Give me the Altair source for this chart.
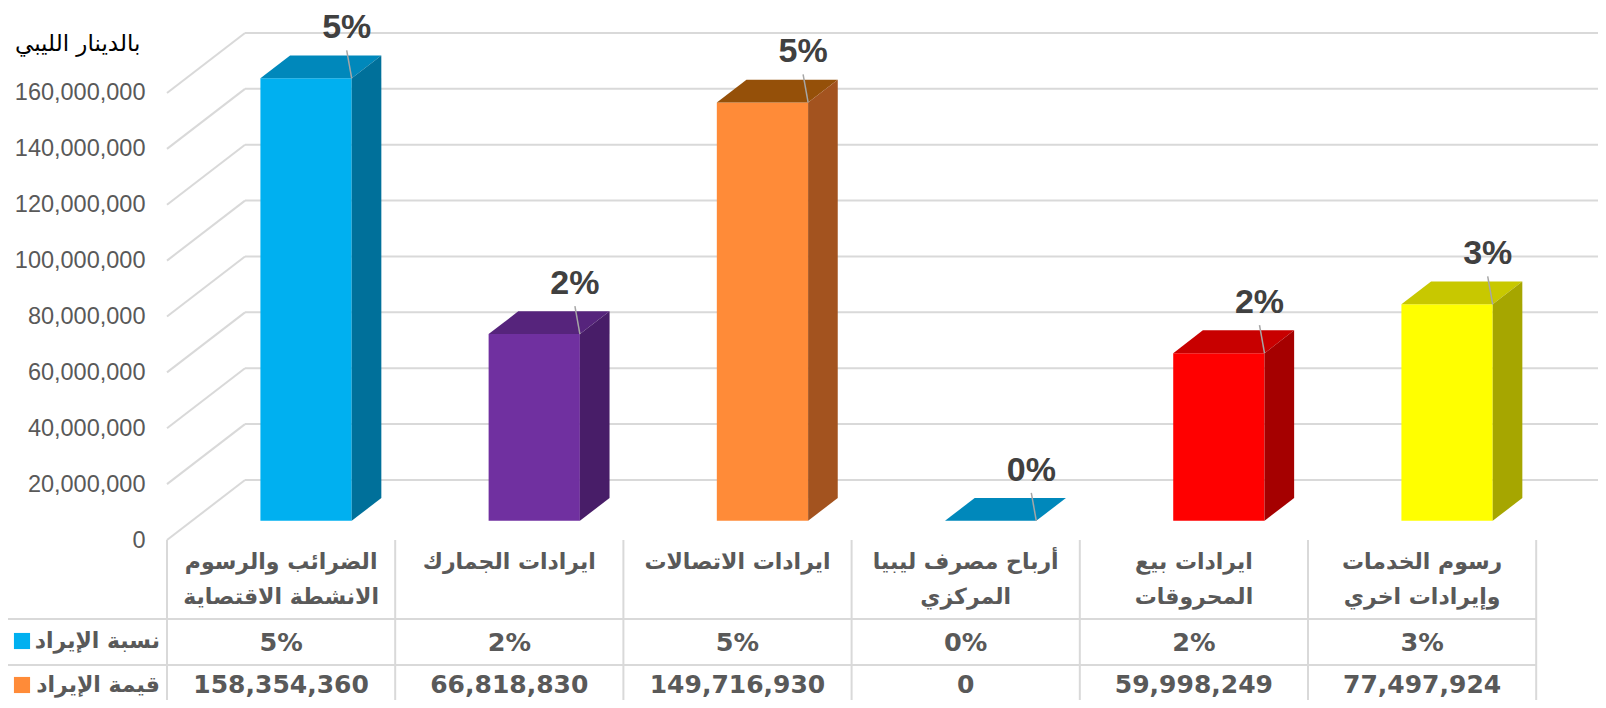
import altair as alt
import pandas as pd

# ---------------- data ----------------
categories = [
    "الضرائب والرسوم\nالانشطة الاقتصاية",
    "ايرادات الجمارك",
    "ايرادات الاتصالات",
    "أرباح مصرف ليبيا\nالمركزي",
    "ايرادات بيع\nالمحروقات",
    "رسوم الخدمات\nوإيرادات اخري",
]
values = [158354360, 66818830, 149716930, 0, 59998249, 77497924]
shares = ["5%", "2%", "5%", "0%", "2%", "3%"]
value_labels = ["158,354,360", "66,818,830", "149,716,930", "0", "59,998,249", "77,497,924"]
row_labels = ["نسبة الإيراد", "قيمة الإيراد"]
y_ticks = [0, 20000000, 40000000, 60000000, 80000000, 100000000, 120000000, 140000000, 160000000]
unit_title = "بالدينار الليبي"

front_colors = ["#00B0F0", "#7030A0", "#FF8B38", "#00B0F0", "#FF0000", "#FFFF00"]
top_colors = ["#0088BB", "#56247C", "#955009", "#0088BB", "#C80000", "#C8C800"]
side_colors = ["#00709A", "#481D68", "#A3531F", "#00709A", "#A50000", "#A6A600"]
legend_colors = ["#00B0F0", "#FF8B38"]

# ---------------- layout constants ----------------
W, H = 1431, 532
PX_PER_COL = 228.2
PX_PER_UNIT = 2.794e-6          # pixels per dinar
XMAX = W / PX_PER_COL
YMAX = H / PX_PER_UNIT
WALL_DX = 78 / PX_PER_COL      # depth of the 3-D box in column units
WALL_DY = 60 / PX_PER_UNIT     # depth of the 3-D box in value units
Z_FRONT, Z_BACK = 0.32, 0.70   # bar depth as fraction of the box depth
BAR_L, BAR_R = 0.30, 0.70      # bar extent inside a column
GRID = "#D9D9D9"
TEXT = "#595959"
AR_FONT = "DejaVu Sans"
NUM_FONT = "Liberation Sans"

xs = alt.Scale(domain=[0, XMAX], nice=False, zero=False)
ys = alt.Scale(domain=[0, YMAX], nice=False, zero=False)
ts = alt.Scale(domain=[0, 168], range=[H, H + 168], nice=False, zero=False)
yaxis = alt.Axis(values=y_ticks, format=",d", title=None, domain=False, ticks=False, grid=False,
                 labelFont=NUM_FONT, labelFontSize=23.5, labelColor=TEXT, labelPadding=22)

# ---------------- derived tables ----------------
n = len(values)
bars = pd.DataFrame({
    "i": range(n), "v": values, "share": shares,
    "front": front_colors,
})
bars["fx"] = bars["i"] + BAR_L + Z_FRONT * WALL_DX
bars["fx2"] = bars["i"] + BAR_R + Z_FRONT * WALL_DX
bars["fy"] = Z_FRONT * WALL_DY
bars["fy2"] = bars["v"] + Z_FRONT * WALL_DY
bars["lx2"] = bars["fx2"] - 5 / PX_PER_COL
bars["ly2"] = bars["fy2"] + 28 / PX_PER_UNIT

top_rows, side_rows = [], []
for i, v in enumerate(values):
    for z in (Z_FRONT, Z_BACK):
        top_rows.append({"i": i, "c": top_colors[i], "y": v + z * WALL_DY,
                         "x": i + BAR_L + z * WALL_DX, "x2": i + BAR_R + z * WALL_DX})
        side_rows.append({"i": i, "c": side_colors[i], "x": i + BAR_R + z * WALL_DX,
                          "y": z * WALL_DY, "y2": v + z * WALL_DY})
top_df = pd.DataFrame(top_rows)
side_df = pd.DataFrame(side_rows)

grid = pd.DataFrame({"v": y_ticks})
grid["x0"] = 0.0
grid["xb"] = WALL_DX
grid["xe"] = XMAX
grid["vb"] = grid["v"] + WALL_DY

# ---------------- 3-D plot layers ----------------
wall_diag = alt.Chart(grid).mark_rule(color=GRID, strokeWidth=2).encode(
    x=alt.X("x0:Q", scale=xs, axis=None), x2="xb:Q",
    y=alt.Y("v:Q", scale=ys, axis=yaxis), y2="vb:Q")
wall_back = alt.Chart(grid).mark_rule(color=GRID, strokeWidth=2).encode(
    x=alt.X("xb:Q", scale=xs, axis=None), x2="xe:Q",
    y=alt.Y("vb:Q", scale=ys, axis=yaxis))

front = alt.Chart(bars).mark_rect().encode(
    x=alt.X("fx:Q", scale=xs, axis=None), x2="fx2:Q",
    y=alt.Y("fy:Q", scale=ys, axis=yaxis), y2="fy2:Q",
    color=alt.Color("front:N", scale=None))
top = alt.Chart(top_df).mark_area(orient="horizontal").encode(
    y=alt.Y("y:Q", scale=ys, axis=yaxis),
    x=alt.X("x:Q", scale=xs, axis=None), x2="x2:Q",
    color=alt.Color("c:N", scale=None), detail="i:N")
side = alt.Chart(side_df).mark_area(orient="vertical").encode(
    x=alt.X("x:Q", scale=xs, axis=None),
    y=alt.Y("y:Q", scale=ys, axis=yaxis), y2="y2:Q",
    color=alt.Color("c:N", scale=None), detail="i:N")
leader = alt.Chart(bars).mark_rule(color="#A6A6A6", strokeWidth=1.5).encode(
    x=alt.X("fx2:Q", scale=xs, axis=None), x2="lx2:Q",
    y=alt.Y("fy2:Q", scale=ys, axis=yaxis), y2="ly2:Q")
labels = alt.Chart(bars).mark_text(font=NUM_FONT, fontSize=34, fontWeight="bold", color="#404040",
                                   dx=-5, dy=-50, baseline="middle", align="center").encode(
    x=alt.X("fx2:Q", scale=xs, axis=None),
    y=alt.Y("fy2:Q", scale=ys, axis=yaxis),
    text="share:N")

plot = alt.layer(wall_diag, wall_back, front, top, side, leader, labels)

# ---------------- data table layers ----------------
table = pd.DataFrame({"i": range(n), "cat": categories, "share": shares, "val": value_labels})
table["xc"] = table["i"] + 0.5
table["ycat"] = 12
table["ypct"] = 103
table["yval"] = 145

vlines = pd.DataFrame({"x": list(range(n + 1))})
vlines["y"] = 0
vlines["y2"] = 170
hlines = pd.DataFrame({"y": [79, 125]})
hlines["x"] = -167 / PX_PER_COL
hlines["x2"] = float(n)

heads = pd.DataFrame({"lab": row_labels, "col": legend_colors, "y": [101, 145]})
heads["x"] = 0.0

t_v = alt.Chart(vlines).mark_rule(color=GRID, strokeWidth=2).encode(
    x=alt.X("x:Q", scale=xs, axis=None), y=alt.Y("y:Q", scale=ts, axis=None), y2="y2:Q")
t_h = alt.Chart(hlines).mark_rule(color=GRID, strokeWidth=2).encode(
    x=alt.X("x:Q", scale=xs, axis=None), x2="x2:Q", y=alt.Y("y:Q", scale=ts, axis=None))
t_cat = alt.Chart(table).mark_text(font=AR_FONT, fontSize=22, fontWeight="bold", color=TEXT,
                                   baseline="top", align="center", lineBreak="\n", lineHeight=35).encode(
    x=alt.X("xc:Q", scale=xs, axis=None), y=alt.Y("ycat:Q", scale=ts, axis=None), text="cat:N")
t_pct = alt.Chart(table).mark_text(font=AR_FONT, fontSize=25.5, fontWeight="bold", color=TEXT,
                                   baseline="middle", align="center").encode(
    x=alt.X("xc:Q", scale=xs, axis=None), y=alt.Y("ypct:Q", scale=ts, axis=None), text="share:N")
t_val = alt.Chart(table).mark_text(font=AR_FONT, fontSize=25, fontWeight="bold", color=TEXT,
                                   baseline="middle", align="center").encode(
    x=alt.X("xc:Q", scale=xs, axis=None), y=alt.Y("yval:Q", scale=ts, axis=None), text="val:N")
t_head = alt.Chart(heads).mark_text(font=AR_FONT, fontSize=22, fontWeight="bold", color=TEXT,
                                    baseline="middle", align="right", dx=-7).encode(
    x=alt.X("x:Q", scale=xs, axis=None), y=alt.Y("y:Q", scale=ts, axis=None), text="lab:N")
t_key = alt.Chart(heads).mark_square(size=260, opacity=1, xOffset=-145).encode(
    x=alt.X("x:Q", scale=xs, axis=None), y=alt.Y("y:Q", scale=ts, axis=None),
    color=alt.Color("col:N", scale=None))

tbl = alt.layer(t_v, t_h, t_cat, t_pct, t_val, t_head, t_key)

chart = alt.layer(plot, tbl).resolve_scale(y="independent").properties(
    width=W, height=H,
    autosize=alt.AutoSizeParams(type="none"),
    padding={"left": 159, "top": 0, "right": 0, "bottom": 160},
    title=alt.TitleParams(unit_title, anchor="start", frame="group", align="left",
                          dx=-152, dy=52, font=AR_FONT, fontSize=23, fontWeight="normal",
                          color="#000000", orient="top"),
).configure_view(stroke=None)

chart.save("out.html", embed_options={"renderer": "svg", "actions": False})
